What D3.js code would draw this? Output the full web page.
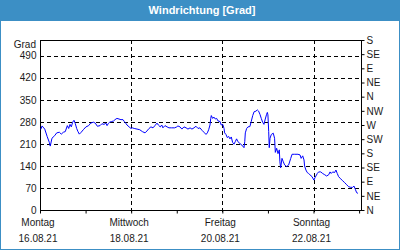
<!DOCTYPE html>
<html>
<head>
<meta charset="utf-8">
<script src="https://cdn.jsdelivr.net/npm/d3@7"></script>
<style>
  body { margin: 0; background: #fff; }
  svg { display: block; font-family: "Liberation Sans", Arial, sans-serif; }
</style>
</head>
<body>
<div class="chart"></div>
<script>
// declare global values
const WIDTH = 400;
const HEIGHT = 250;
const PLOT = { left: 40, right: 361, top: 40, bottom: 210 };

// hours since 16.08.21 00:00 and wind direction in degrees
const hours = [
  0.4, 1.1, 2.5, 3.8, 4.9, 5.4, 6.3, 7.7, 8.8, 10.2, 11.2, 12.3, 13.3, 14.4, 15.1, 15.8,
  16.5, 17.2, 17.9, 18.6, 19.3, 20.0, 20.7, 21.7, 22.8, 24.2, 25.6, 26.7, 28.1, 29.1, 30.2,
  31.6, 32.6, 33.7, 34.7, 35.3, 36.0, 36.7, 37.7, 38.8, 39.5, 40.5, 41.6, 42.6, 43.7, 44.4,
  45.1, 45.8, 46.9, 47.9, 48.6, 49.6, 51.1, 52.5, 53.9, 55.3, 56.3, 57.4, 58.4, 59.5, 60.5,
  61.6, 62.3, 63.3, 64.1, 64.7, 65.8, 66.9, 67.9, 69.3, 70.9, 72.0, 72.6, 73.7, 74.7, 75.8,
  76.9, 77.9, 79.0, 80.0, 81.1, 82.1, 83.2, 84.2, 85.3, 86.3, 87.4, 88.1, 88.8, 89.5, 89.9,
  90.2, 90.9, 91.6, 92.3, 93.0, 93.7, 94.8, 95.4, 96.2, 96.9, 97.2, 97.9, 98.6, 99.3, 100.0,
  100.7, 101.4, 102.1, 102.8, 103.5, 104.2, 105.3, 106.3, 107.4, 107.8, 108.1, 108.8, 109.5,
  110.5, 111.2, 112.0, 112.7, 113.7, 114.4, 115.1, 115.8, 116.5, 117.2, 117.9, 118.6, 119.3,
  119.7, 120.0, 120.4, 120.7, 121.1, 121.8, 122.8, 123.5, 123.9, 124.6, 125.3, 126.0, 126.3,
  126.7, 127.4, 128.1, 128.8, 129.9, 130.9, 132.0, 132.7, 134.1, 135.8, 136.9, 137.5, 138.3,
  139.0, 139.3, 140.0, 140.7, 141.4, 142.1, 143.2, 144.2, 144.9, 146.0, 146.7, 147.8, 148.8,
  149.9, 150.9, 152.0, 152.7, 153.3, 154.1, 155.1, 155.8, 156.5, 157.2, 158.3, 159.3, 160.4,
  161.5, 162.5, 163.6, 164.6, 165.3, 166.0, 166.7, 167.4
];
const degrees = [
  256, 267, 257, 233, 215, 203, 228, 236, 245, 247, 241, 247, 249, 268, 259, 272,
  264, 279, 285, 274, 259, 249, 241, 247, 255, 264, 268, 276, 279, 276, 266,
  268, 274, 272, 276, 268, 275, 279, 281, 283, 287, 291, 289, 287, 287, 281,
  276, 270, 264, 259, 261, 259, 257, 255, 249, 245, 251, 259, 264, 261, 268,
  276, 270, 264, 270, 261, 268, 264, 261, 261, 261, 264, 267, 264, 257, 264,
  261, 257, 261, 257, 261, 266, 259, 261, 253, 247, 240, 245, 255, 270, 291,
  300, 291, 295, 289, 291, 283, 281, 270, 272, 259, 245, 240, 230, 234, 226,
  232, 215, 209, 217, 226, 217, 211, 206, 198, 217, 245, 259, 264,
  265, 281, 300, 312, 314, 318, 314, 304, 291, 279, 272, 289, 304,
  310, 302, 249, 198, 228, 240, 244, 228, 183, 196, 179, 191, 153,
  134, 164, 153, 143, 138, 143, 164, 177, 177, 177, 175, 164, 172,
  159, 140, 127, 119, 116, 112, 106, 95, 104, 116, 121, 121, 116,
  112, 108, 112, 121, 116, 121, 119, 127, 116, 106, 99, 93, 87,
  80, 74, 72, 72, 76, 66, 55, 53
];

const leftTicks = [0, 70, 140, 210, 280, 350, 420, 490];
const compass = ["N", "NE", "E", "SE", "S", "SW", "W", "NW", "N", "NE", "E", "SE", "S"];
const dayNames = ["Montag", "Mittwoch", "Freitag", "Sonntag"];
const dayDates = ["16.08.21", "18.08.21", "20.08.21", "22.08.21"];
const dayOffsets = [0, 2, 4, 6];

const START = new Date(2021, 7, 16, 0);
const hourToDate = (h) => new Date(START.getTime() + h * 3600e3);
const data = hours.map((h, i) => ({ t: hourToDate(h), v: degrees[i] }));

// scales
var x = d3.scaleTime()
  .domain([START, hourToDate(169)])
  .range([PLOT.left, PLOT.right]);
var y = d3.scaleLinear().domain([0, 540]).range([PLOT.bottom, PLOT.top]);

var svg = d3
  .select(".chart")
  .append("svg")
  .attr("width", WIDTH)
  .attr("height", HEIGHT);

// card + title bar
svg.append("rect")
  .attr("x", 0.5).attr("y", 0.5)
  .attr("width", WIDTH - 1).attr("height", HEIGHT - 1)
  .attr("fill", "#ffffff").attr("stroke", "#3c8fc5");
svg.append("rect")
  .attr("x", 0).attr("y", 0)
  .attr("width", WIDTH).attr("height", 21)
  .attr("fill", "#3c8fc5");
svg.append("text")
  .attr("x", 202).attr("y", 14)
  .attr("text-anchor", "middle")
  .attr("fill", "#ffffff")
  .attr("font-weight", "bold")
  .attr("font-size", "11px")
  .text("Windrichtung [Grad]");

// horizontal dashed grid
svg.append("g")
  .selectAll("line")
  .data(leftTicks.filter((d) => d > 0))
  .join("line")
  .attr("x1", PLOT.left).attr("x2", PLOT.right)
  .attr("y1", (d) => Math.round(y(d)) + 0.5)
  .attr("y2", (d) => Math.round(y(d)) + 0.5)
  .attr("stroke", "#000")
  .attr("stroke-dasharray", "4,3");

// vertical dashed grid on labelled days
svg.append("g")
  .selectAll("line")
  .data(dayOffsets.filter((d) => d > 0))
  .join("line")
  .attr("x1", (d) => Math.round(x(hourToDate(d * 24))) + 0.5)
  .attr("x2", (d) => Math.round(x(hourToDate(d * 24))) + 0.5)
  .attr("y1", PLOT.top).attr("y2", PLOT.bottom + 3)
  .attr("stroke", "#000")
  .attr("stroke-dasharray", "4,3");

// x axis: day ticks below the plot
svg.append("g")
  .attr("transform", `translate(0,${PLOT.bottom + 0.5})`)
  .call(d3.axisBottom(x).ticks(d3.timeDay.every(1)).tickSize(3).tickFormat(""))
  .call((g) => g.select(".domain").remove());

// day labels
var lbl = svg.append("g")
  .attr("font-size", "10px")
  .attr("fill", "#1a1a1a")
  .attr("text-anchor", "middle");
lbl.selectAll(".dname")
  .data(dayOffsets)
  .join("text")
  .attr("x", (d) => x(hourToDate(d * 24)) - 2)
  .attr("y", 226)
  .text((d, i) => dayNames[i]);
lbl.selectAll(".ddate")
  .data(dayOffsets)
  .join("text")
  .attr("x", (d) => x(hourToDate(d * 24)) - 2)
  .attr("y", 242)
  .text((d, i) => dayDates[i]);

// left axis labels
svg.append("g")
  .attr("transform", `translate(${PLOT.left + 0.5},0)`)
  .call(d3.axisLeft(y).tickValues(leftTicks).tickSize(0).tickPadding(4))
  .call((g) => g.select(".domain").remove())
  .call((g) => g.selectAll(".tick text").attr("font-size", "10px").attr("fill", "#1a1a1a")
    .attr("font-family", "Liberation Sans, Arial, sans-serif"));
svg.append("text")
  .attr("x", 36).attr("y", 48)
  .attr("text-anchor", "end")
  .attr("font-size", "10px")
  .attr("fill", "#1a1a1a")
  .text("Grad");

// right compass axis
var yc = d3.scaleLinear().domain([0, 540]).range([PLOT.bottom, PLOT.top]);
svg.append("g")
  .attr("transform", `translate(${PLOT.right + 0.5},0)`)
  .call(d3.axisRight(yc).tickValues(d3.range(0, 541, 45)).tickSize(3).tickPadding(2)
    .tickFormat((d, i) => compass[i]))
  .call((g) => g.select(".domain").remove())
  .call((g) => g.selectAll(".tick text").attr("font-size", "10px").attr("fill", "#1a1a1a")
    .attr("font-family", "Liberation Sans, Arial, sans-serif"));

// plot frame
svg.append("rect")
  .attr("x", PLOT.left + 0.5).attr("y", PLOT.top + 0.5)
  .attr("width", PLOT.right - PLOT.left).attr("height", PLOT.bottom - PLOT.top)
  .attr("fill", "none").attr("stroke", "#000");

// the wind direction line
var valueLine = d3.line()
  .x((d) => x(d.t))
  .y((d) => y(d.v));
svg.append("path")
  .datum(data)
  .attr("d", valueLine)
  .attr("fill", "none")
  .attr("stroke", "#0000ff")
  .attr("stroke-width", 1);
</script>
</body>
</html>
